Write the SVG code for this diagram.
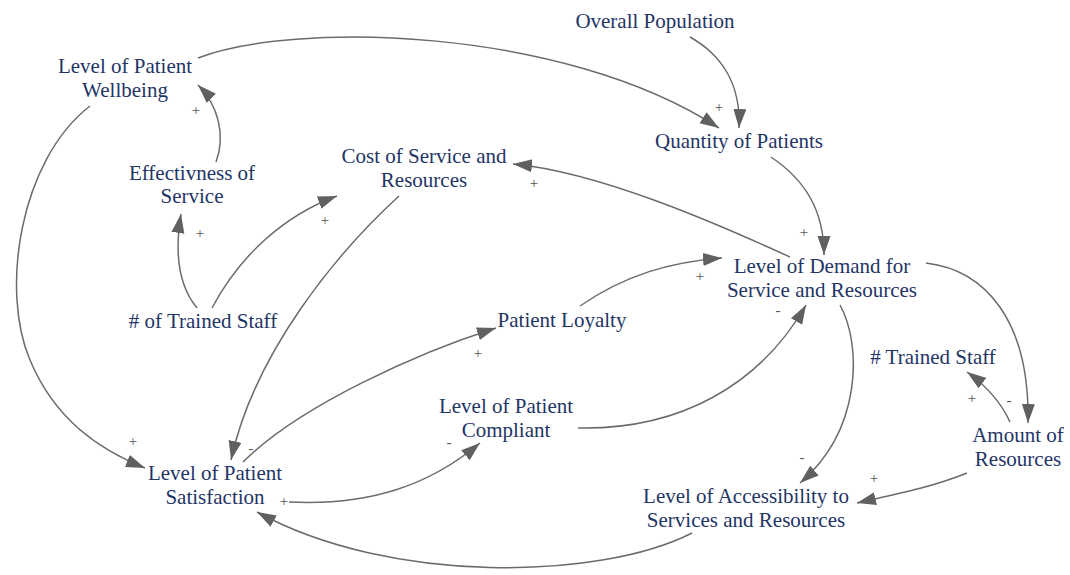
<svg xmlns="http://www.w3.org/2000/svg" width="1070" height="575" viewBox="0 0 1070 575">
<style>
.n text{font-size:21px;fill:#1f3566;text-anchor:middle}
.c path{fill:none;stroke:#6b6b6b;stroke-width:1.5;marker-end:url(#ah)}
.p{font-size:15px;fill:#555;text-anchor:middle;dominant-baseline:central}
</style>
<defs>
<marker id="ah" markerUnits="userSpaceOnUse" markerWidth="20" markerHeight="14" refX="19" refY="6.5" orient="auto">
<path d="M0,0 L19,6.5 L0,13 z" fill="#606060"/>
</marker>
</defs>
<rect width="1070" height="575" fill="#fff"/>
<g class="c" id="connectors">
<path d="M198,58 C290,22 560,25 719,128"/>
<path d="M690,37 C722,55 741,85 739,128"/>
<path d="M771,157 C805,180 824,210 824,255"/>
<path d="M790,257 C720,225 600,172 513,164"/>
<path d="M840,305 C862,345 862,430 800,483"/>
<path d="M926,263 C985,270 1030,320 1028,423"/>
<path d="M1010,422 C1000,400 985,385 967,372"/>
<path d="M967,473 C930,488 895,494 857,503"/>
<path d="M692,533 C600,580 390,585 257,512"/>
<path d="M289,502 C370,506 430,485 480,443"/>
<path d="M243,462 C300,405 420,352 496,328"/>
<path d="M399,196 C340,250 255,350 231,460"/>
<path d="M90,106 C20,160 0,290 30,360 C55,420 100,450 145,468"/>
<path d="M216,162 C226,135 218,105 198,85"/>
<path d="M197,308 C178,285 175,250 181,214"/>
<path d="M212,308 C240,255 285,215 337,196"/>
<path d="M580,306 C625,275 670,262 722,258"/>
<path d="M578,428 C680,430 760,385 806,305"/>
</g>
<g id="polarities" font-family="Liberation Serif, Times New Roman, serif">
<text class="p" x="719" y="107">+</text>
<text class="p" x="196" y="110">+</text>
<text class="p" x="534" y="183">+</text>
<text class="p" x="200" y="233">+</text>
<text class="p" x="325" y="220">+</text>
<text class="p" x="804" y="232">+</text>
<text class="p" x="700" y="276">+</text>
<text class="p" x="778" y="310">-</text>
<text class="p" x="478" y="353">+</text>
<text class="p" x="251" y="448">-</text>
<text class="p" x="133" y="441">+</text>
<text class="p" x="449" y="442">-</text>
<text class="p" x="284" y="501">+</text>
<text class="p" x="802" y="457">-</text>
<text class="p" x="1009" y="400">-</text>
<text class="p" x="972" y="398">+</text>
<text class="p" x="874" y="478">+</text>
</g>
<g font-family="Liberation Serif, Times New Roman, serif">
<g class="n" id="overall-population"><text x="655" y="28">Overall Population</text></g>
<g class="n" id="patient-wellbeing"><text x="125" y="73">Level of Patient</text><text x="125" y="97">Wellbeing</text></g>
<g class="n" id="quantity-of-patients"><text x="739" y="148">Quantity of Patients</text></g>
<g class="n" id="effectiveness"><text x="192" y="180">Effectivness of</text><text x="192" y="203">Service</text></g>
<g class="n" id="cost"><text x="424" y="163">Cost of Service and</text><text x="424" y="187">Resources</text></g>
<g class="n" id="demand"><text x="822" y="273">Level of Demand for</text><text x="822" y="297">Service and Resources</text></g>
<g class="n" id="trained-staff-1"><text x="203" y="328"># of Trained Staff</text></g>
<g class="n" id="loyalty"><text x="562" y="327">Patient Loyalty</text></g>
<g class="n" id="compliant"><text x="506" y="413">Level of Patient</text><text x="506" y="437">Compliant</text></g>
<g class="n" id="satisfaction"><text x="215" y="480">Level of Patient</text><text x="215" y="504">Satisfaction</text></g>
<g class="n" id="trained-staff-2"><text x="933" y="364"># Trained Staff</text></g>
<g class="n" id="amount-resources"><text x="1018" y="442">Amount of</text><text x="1018" y="466">Resources</text></g>
<g class="n" id="accessibility"><text x="746" y="503">Level of Accessibility to</text><text x="746" y="527">Services and Resources</text></g>
</g>
</svg>
